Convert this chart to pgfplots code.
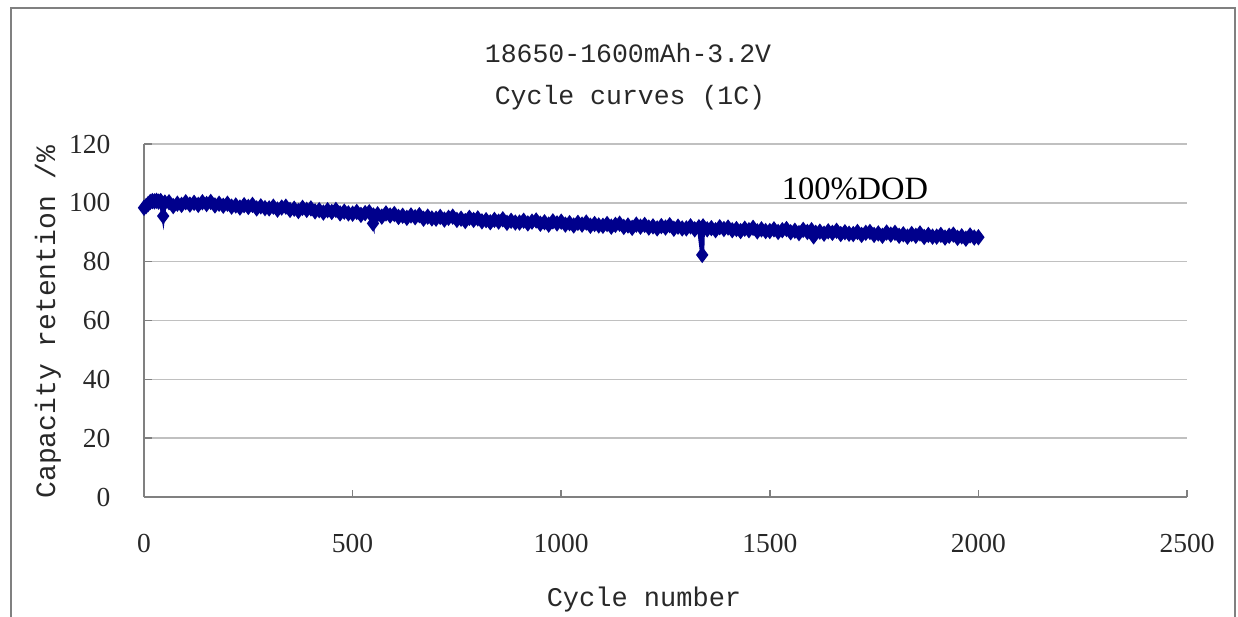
\documentclass[border=0pt]{standalone}
\usepackage{fontspec}
\setmainfont{Liberation Serif}
\newfontfamily\monofont{Liberation Mono}
\usepackage{pgfplots}
\pgfplotsset{compat=1.18}
\definecolor{navy}{RGB}{0,0,140}
\definecolor{axgray}{RGB}{128,128,128}
\definecolor{gridgray}{RGB}{192,192,192}
\definecolor{txt}{RGB}{40,40,40}
\begin{document}
\begin{tikzpicture}
\useasboundingbox (0,0) rectangle (495.2pt,246.4pt);
\draw[axgray, line width=0.9pt] (4.4pt,-5pt) -- (4.4pt,243.2pt) -- (494pt,243.2pt) -- (494pt,-5pt);
\begin{axis}[
  at={(57.6pt,47.6pt)}, anchor=south west,
  scale only axis, width=417.2pt, height=141.2pt,
  xmin=0, xmax=2500, ymin=0, ymax=120,
  xtick={0,500,1000,1500,2000,2500},
  ytick={0,20,40,60,80,100,120},
  axis x line*=bottom, axis y line*=left,
  axis line style={axgray, line width=0.8pt},
  ymajorgrids, grid style={gridgray, line width=0.6pt},
  tick align=inside, major tick length=3pt,
  tick style={axgray, line width=0.6pt},
  /pgf/number format/assume math mode=true,
  /pgf/number format/1000 sep={},
  xticklabel style={font=\fontsize{11}{13}\selectfont, text=txt, anchor=center, yshift=-18.4pt},
  yticklabel style={font=\fontsize{11}{13}\selectfont, text=txt, anchor=east, xshift=-9.9pt},
  clip=false,
]
\addplot[navy, line width=1.6pt, mark=diamond*, mark size=2.8pt, mark options={navy, line width=0.6pt}] table {
x y
0 98.3
5 98.9
10 99.6
15 100.3
20 100.6
25 100.5
30 100.7
35 100.4
40 100.6
46 95.5
50 100.1
60 100.2
70 98.9
80 99.7
90 99.3
100 100.2
110 99.4
120 100.0
130 99.3
140 100.2
150 99.6
160 100.3
170 99.1
180 99.7
190 99.0
200 99.7
210 98.7
220 99.1
230 98.4
240 99.2
250 98.6
260 99.3
270 98.1
280 98.8
290 98.2
300 98.1
310 98.7
320 97.7
330 98.4
340 98.7
350 97.6
360 98.0
370 97.2
380 98.3
390 97.6
400 98.1
410 97.1
420 97.5
430 96.7
440 97.5
450 96.9
460 97.6
470 96.4
480 97.0
490 96.4
500 96.3
510 96.9
520 95.9
530 96.5
540 96.8
549 93.0
550 95.7
560 96.1
570 95.3
580 96.4
590 95.7
600 96.2
610 95.2
620 95.6
630 94.9
640 95.7
650 95.1
660 95.8
670 94.6
680 95.3
690 94.7
700 94.6
710 95.2
720 94.3
730 94.9
740 95.3
750 94.2
760 94.6
770 93.8
780 94.9
790 94.2
800 94.7
810 93.7
820 94.1
830 93.4
840 94.2
850 93.6
860 94.4
870 93.2
880 93.9
890 93.3
900 93.3
910 93.9
920 93.0
930 93.6
940 94.0
950 92.9
960 93.4
970 92.6
980 93.7
990 93.0
1000 93.6
1010 92.6
1020 93.1
1030 92.3
1040 93.2
1050 92.6
1060 93.3
1070 92.2
1080 92.8
1090 92.3
1100 92.2
1110 92.8
1120 91.9
1130 92.5
1140 92.9
1150 91.8
1160 92.3
1170 91.5
1180 92.6
1190 91.9
1200 92.5
1210 91.6
1220 92.0
1230 91.3
1240 92.1
1250 91.6
1260 92.4
1270 91.2
1280 91.9
1290 91.3
1300 91.3
1310 92.0
1320 91.0
1330 91.7
1338 82.3
1340 92.0
1350 91.0
1360 91.4
1370 90.7
1380 91.7
1390 91.1
1400 91.6
1410 90.7
1420 91.1
1430 90.4
1440 91.2
1450 90.7
1460 91.5
1470 90.3
1480 91.0
1490 90.4
1500 90.4
1510 91.0
1520 90.1
1530 90.7
1540 91.1
1550 90.0
1560 90.5
1570 89.7
1580 90.8
1590 90.1
1600 90.7
1605 88.6
1610 89.8
1620 90.2
1630 89.5
1640 90.3
1650 89.8
1660 90.5
1670 89.4
1680 90.0
1690 89.5
1700 89.4
1710 90.1
1720 89.1
1730 89.8
1740 90.1
1750 89.1
1760 89.6
1770 88.8
1780 89.9
1790 89.2
1800 89.8
1810 88.8
1820 89.3
1830 88.5
1840 89.4
1850 88.8
1860 89.6
1870 88.4
1880 89.1
1890 88.5
1900 88.5
1910 89.1
1920 88.2
1930 88.8
1940 89.2
1950 88.1
1960 88.6
1970 87.8
1980 88.9
1990 88.2
2000 88.3
};
\end{axis}
\node[font=\monofont\fontsize{10.6}{12}\selectfont, text=txt] at (251.2pt,225pt) {18650-1600mAh-3.2V};
\node[font=\monofont\fontsize{10.6}{12}\selectfont, text=txt] at (252pt,207.2pt) {Cycle curves (1C)};
\node[font=\monofont\fontsize{10.8}{12}\selectfont, text=txt] at (257.6pt,6.4pt) {Cycle number};
\node[rotate=90, font=\monofont\fontsize{11.2}{12}\selectfont, text=txt] at (19.2pt,117.6pt) {Capacity retention /\%};
\node[font=\fontsize{13}{15}\selectfont, text=black] at (342pt,170.8pt) {100\%DOD};
\end{tikzpicture}
\end{document}
